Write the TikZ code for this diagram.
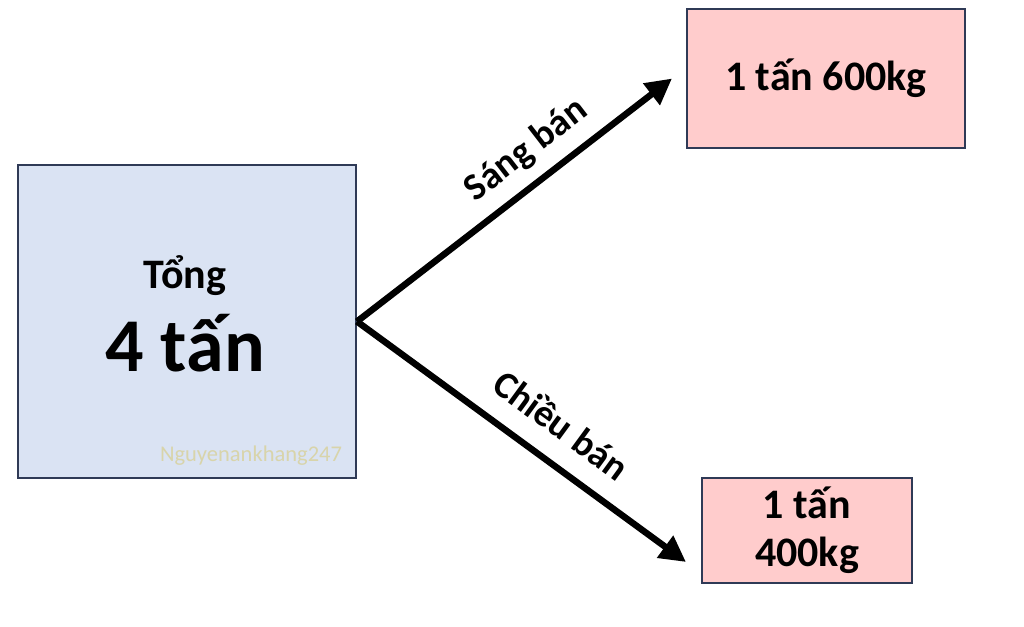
\documentclass[tikz,border=0pt]{standalone}
\usepackage{fontspec}
\setmainfont{Carlito}
\usepackage{tikz}
\usetikzlibrary{calc}
\usetikzlibrary{arrows.meta,positioning}
\definecolor{khungvien}{RGB}{47,58,86}
\definecolor{nenxanh}{RGB}{218,227,243}
\definecolor{nenhong}{RGB}{255,204,204}
\definecolor{chimo}{RGB}{216,212,170}
\newcommand{\CoVua}{\fontsize{42}{48}\selectfont\bfseries}
\newcommand{\CoLon}{\fontsize{76}{80}\selectfont\bfseries}
\newcommand{\CoNhan}{\fontsize{38}{40}\selectfont\bfseries}

\begin{document}
\begin{tikzpicture}[x=1pt,y=1pt,>={Triangle[length=26pt,width=26pt]},
    hop/.style={draw=khungvien, line width=2pt, inner sep=0pt},
    hophong/.style={hop, fill=nenhong, font=\CoVua, align=center}]

  \useasboundingbox (0,0) rectangle (1024,626);

  \node[hop, fill=nenxanh, minimum width=338pt, minimum height=313pt] (tong) at (187,304.5) {};
  \node[anchor=base] (tongchu) at ($(tong.center)+(-2,32.5)$) {\CoVua Tổng};
  \node[anchor=base] (tongso) at ($(tong.center)+(-2,-50.5)$) {\CoLon 4 tấn};
  \node[anchor=base, text=chimo] (chimo) at ($(tong.center)+(64,-140.5)$) {\fontsize{22.5}{24}\selectfont Nguyenankhang247};

  \node[hophong, minimum width=278pt, minimum height=139pt] (sang) at (826,547.5) {1 tấn 600kg};
  \node[hophong, minimum width=210pt, minimum height=105pt] (chieu) at (807,95.5) {1 tấn\\400kg};

  % mui ten dung truoc hop
  \coordinate (sangmui) at ($(sang.west)+(-14,0)$);
  \coordinate (chieumui) at ($(chieu.west)+(-15,-31.5)$);

  \draw [->, line width=6.5pt, black] (tong.east) -- (sangmui)
    node[pos=0.6, sloped, above=9pt] (sangnhan) {\CoNhan Sáng bán};
  \draw [->, line width=6.5pt, black] (tong.east) -- (chieumui)
    node[pos=0.555, sloped, above=17pt] (chieunhan) {\CoNhan Chiều bán};
\end{tikzpicture}
\end{document}
